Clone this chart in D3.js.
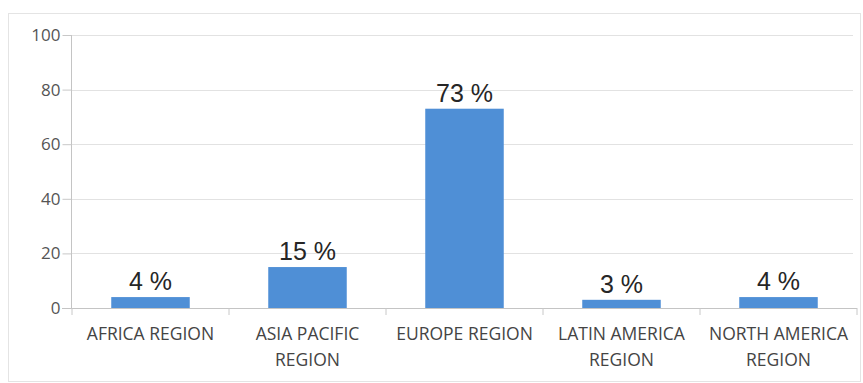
<!DOCTYPE html>
<html><head><meta charset="utf-8">
<script src="https://cdn.jsdelivr.net/npm/d3@7"></script>
<style>body{margin:0;background:#fff}svg{display:block}</style>
</head><body>
<svg id="c" width="863" height="383"></svg>
<script>
const categories = ["AFRICA REGION", "ASIA PACIFIC REGION", "EUROPE REGION", "LATIN AMERICA REGION", "NORTH AMERICA REGION"];
const categoryLines = [["AFRICA REGION"], ["ASIA PACIFIC", "REGION"], ["EUROPE REGION"], ["LATIN AMERICA", "REGION"], ["NORTH AMERICA", "REGION"]];
const values = [4, 15, 73, 3, 4];
const yTicks = [0, 20, 40, 60, 80, 100];

const svg = d3.select("#c");
const m = {l: 72, r: 857, t: 35, b: 308};
const x = d3.scaleBand().domain(categories).range([m.l, m.r]).paddingInner(0.5).paddingOuter(0.25);
const y = d3.scaleLinear().domain([0, 100]).range([m.b, m.t]);

svg.append("rect").attr("x", 8.5).attr("y", 13.5).attr("width", 852).attr("height", 368)
  .attr("fill", "#fff").attr("stroke", "#e4e4e4");

// gridlines
svg.append("g").selectAll("line").data(yTicks.filter(d => d > 0)).join("line")
  .attr("x1", m.l).attr("x2", 853).attr("y1", d => Math.round(y(d)) + 0.5).attr("y2", d => Math.round(y(d)) + 0.5)
  .attr("stroke", "#e2e2e2");

// y axis
const ya = svg.append("g").attr("transform", `translate(${m.l - 0.5},0)`)
  .call(d3.axisLeft(y).tickValues(yTicks).tickSize(9).tickPadding(2));
ya.select(".domain").attr("stroke", "#c4c4c4").attr("d", `M0,${m.b}V${m.t}`);
ya.selectAll(".tick line").attr("stroke", "#c8c8c8");
ya.selectAll(".tick text").attr("font-family", "'Open Sans', sans-serif").attr("font-size", 17).attr("fill", "#555");

// bars
svg.append("g").selectAll("rect").data(values).join("rect")
  .attr("x", (d, i) => x(categories[i])).attr("width", x.bandwidth())
  .attr("y", d => y(d)).attr("height", d => y(0) - y(d))
  .attr("fill", "#4f8fd6");

// value labels
svg.append("g").selectAll("text").data(values).join("text")
  .attr("x", (d, i) => x(categories[i]) + x.bandwidth() / 2).attr("y", d => y(d) - 7)
  .attr("text-anchor", "middle").attr("font-family", "'Liberation Sans', Arial, sans-serif")
  .attr("font-size", 25).attr("fill", "#262626").text(d => d + " %");

// x axis
const bounds = d3.range(categories.length + 1).map(i => m.l + i * (m.r - m.l) / categories.length);
const xa = svg.append("g");
xa.append("line").attr("x1", m.l - 10).attr("x2", m.r).attr("y1", m.b + 0.5).attr("y2", m.b + 0.5).attr("stroke", "#c4c4c4");
xa.selectAll(".tk").data(bounds).join("line").attr("class", "tk")
  .attr("x1", d => d).attr("x2", d => d).attr("y1", m.b).attr("y2", m.b + 7).attr("stroke", "#c8c8c8");
const lab = xa.selectAll(".lab").data(categoryLines).join("text").attr("class", "lab")
  .attr("x", (d, i) => x(categories[i]) + x.bandwidth() / 2).attr("y", 340)
  .attr("text-anchor", "middle").attr("font-family", "'Open Sans', sans-serif").attr("font-size", 17.5).attr("fill", "#444");
lab.selectAll("tspan").data(d => d).join("tspan")
  .attr("x", function() { return this.parentNode.getAttribute("x"); })
  .attr("dy", (d, j) => j === 0 ? 0 : 26).text(d => d);
</script>
</body></html>
